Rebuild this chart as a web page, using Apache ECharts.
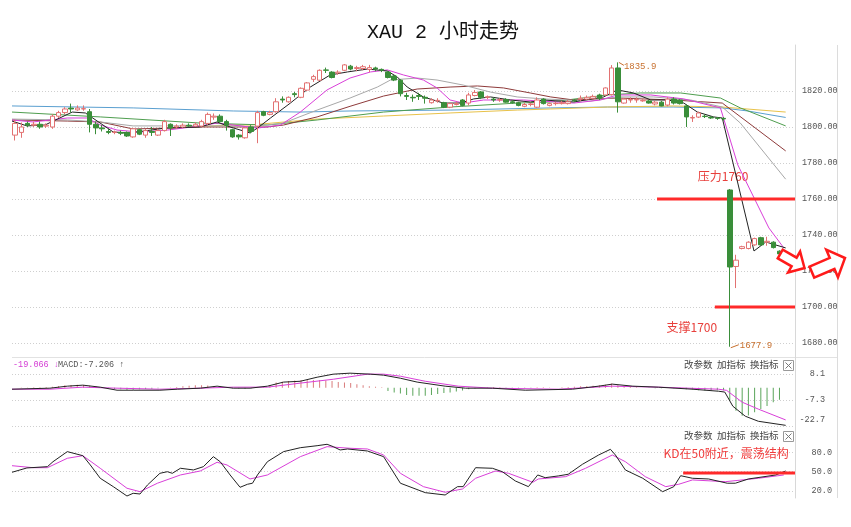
<!DOCTYPE html>
<html><head><meta charset="utf-8">
<script src="https://cdn.jsdelivr.net/npm/echarts@6/dist/echarts.min.js"></script>
<style>html,body{margin:0;padding:0;background:#fff}#c{width:851px;height:527px}</style>
</head><body><div id="c"></div>
<script>
// ---------- DATA ----------
const N_SLOTS = 126; // category slots (124 bars + 2 empty at right)
const opens  = [1795.5,1797,1802,1801,1801.5,1800.5,1800,1806,1808,1810.5,1809.5,1810,1808.5,1801.5,1799.5,1797.5,1797,1797,1797,1794.5,1798.5,1795.5,1797.5,1795.5,1798,1801.5,1800,1800,1801,1800.5,1800.5,1802,1805.5,1806,1803,1798.5,1795.5,1794,1800,1800.5,1808.5,1807,1808.5,1815.5,1814,1818.5,1816.5,1820.5,1826.5,1826,1831.7,1830.5,1830,1831.5,1833.8,1832.5,1832.5,1832,1832.8,1832,1830.5,1828.3,1826,1817.5,1816.5,1817.5,1816.5,1813.5,1814.5,1813.5,1811,1812.5,1815,1813.3,1817.5,1819.5,1816.5,1815.5,1815,1815.3,1814,1813.5,1811.5,1812.5,1811,1815.5,1812,1813,1813,1813,1815,1815.5,1815.5,1816,1817.8,1817.8,1818,1832.8,1813.3,1815,1815,1814.5,1814.5,1812.8,1813.8,1812.2,1815.5,1815,1811.7,1805,1805.5,1806,1805.5,1805,1804.8,1765,1722.5,1732.5,1732.5,1734.5,1738.5,1736,1736,1731];
const closes = [1802,1800,1801,1801.5,1800,1801,1806,1808,1810,1810,1810.5,1810.2,1801.5,1799.5,1799,1797,1797.2,1796.5,1795,1799,1796,1798,1797,1798,1803,1799.5,1800.5,1801,1800.5,1801.5,1803,1807,1806,1803,1801,1794.5,1794.5,1799.5,1797.5,1808,1806.5,1808,1814,1815,1816.5,1818,1821.5,1824.5,1828,1831.5,1831.5,1827.5,1830.5,1834.5,1832.2,1833,1833.5,1833,1832.2,1831.5,1827.5,1826.1,1818.5,1817,1816.2,1817,1816,1815,1814.8,1811,1813,1813,1812,1817.8,1819.2,1816.5,1816.8,1815,1815.2,1813.8,1813.5,1812,1812.5,1812.8,1815,1813,1813,1813.2,1813.5,1814,1814.5,1816,1816.5,1817,1816,1821.7,1832.8,1814,1815.5,1815.3,1815.3,1814.8,1813.3,1813.8,1811.7,1815.5,1813.3,1813,1805.6,1805.3,1807.8,1805.8,1805,1804.8,1804.5,1722.2,1726,1733.5,1736,1738,1734.5,1736.5,1733,1729.5];
const lows   = [1792.5,1794,1800,1800,1799,1799.5,1799,1805,1807,1808,1809,1809,1797,1796,1797.5,1796,1796,1795.5,1794.5,1794,1795.5,1794,1795,1795,1797.5,1795,1799,1799.5,1800,1800,1800,1801,1804,1802,1798,1794,1793,1793.5,1796.5,1791,1806,1806.5,1808,1813.5,1813.5,1816.5,1816,1820,1825,1825.5,1830,1827,1829,1831,1831.5,1831,1831.5,1830.5,1831,1830.5,1827,1825.5,1817,1815,1814,1815,1813,1813,1813.5,1810.5,1810.5,1812,1811.5,1812,1817,1815.5,1815.5,1814,1814,1813.5,1813,1811.5,1811,1811.5,1810.5,1812.5,1811.5,1812,1812.5,1812.5,1814,1814.5,1815,1815.5,1815,1817.5,1817.5,1808,1813,1813.5,1813.5,1814,1813,1812,1811.5,1811.5,1812.5,1812.5,1800,1802.8,1805,1805,1804.5,1804,1803.5,1677.9,1710.5,1732,1732,1734,1734,1734,1732.5,1729];
const highs  = [1804,1802.5,1803,1803,1803,1802,1807,1809,1811,1813,1812,1812,1810,1803,1801,1799,1798,1798,1797.5,1799.5,1799,1799,1800,1799,1804,1802,1801.5,1802,1802,1802.5,1804,1808,1807.5,1807,1804,1799,1796,1800,1801,1809,1809,1809,1816,1817,1817,1819.5,1822,1825,1829,1832,1833,1831,1831.5,1835,1834.5,1834,1834.5,1834.5,1833.5,1832.5,1831,1829,1826.5,1819,1818,1819,1817.5,1816,1816,1814,1813.5,1814,1815.5,1819,1820.5,1820,1817.5,1816.5,1816,1816,1815,1814,1813.5,1813.5,1816.5,1816,1813.5,1814,1814.5,1815,1815.5,1817.5,1817.5,1818,1818.5,1822,1834.4,1835.9,1816,1816.5,1816.5,1815.5,1815,1814.5,1814.5,1816.5,1816.5,1815.5,1812.5,1806.5,1808.5,1807,1806,1805.5,1805.5,1765.5,1729,1734,1736.5,1738.5,1739,1739,1736.5,1731.5];

// moving-average lines: [bar index, value]
const ma5   = [[-0.5,1803.3],[1.9,1800.6],[4.8,1801.1],[9.2,1808.3],[11.3,1807.8],[15.8,1797.2],[18.5,1796.7],[24.2,1799.4],[29.8,1800],[32.5,1802.8],[34.6,1800],[37.8,1796.7],[39,1799.4],[41.1,1805],[44.3,1813.3],[47.5,1822.2],[50.7,1828.9],[53.5,1830.6],[56.7,1832.2],[59.9,1831.1],[61.5,1827.8],[63.1,1822.2],[65.7,1816.7],[68.9,1813.3],[71.7,1813.3],[73.8,1815.6],[76.5,1816.7],[79.7,1815],[82.9,1813.9],[85,1815],[89.9,1813.9],[94.7,1816.7],[96.9,1820.6],[99.5,1818.9],[102.3,1815],[105,1815],[107.6,1813.3],[109.8,1808.3],[112.4,1805.6],[113.8,1805],[118.9,1731.1],[120.8,1736.1],[124,1732.8]];
const ma10  = [[-0.5,1803.9],[2.9,1802.8],[8.4,1805],[11.6,1805],[13.7,1801.1],[16.4,1798.3],[20.1,1797.2],[24.5,1798.3],[29.8,1800.6],[32.5,1802.2],[35.1,1801.1],[39,1799.4],[42.7,1801.1],[45.9,1808.3],[50.2,1820.6],[53.9,1827.2],[57.2,1830.6],[59.9,1831.7],[62.5,1828.9],[65.7,1826.1],[67.9,1821.7],[70,1815],[72.1,1813.3],[75.4,1815],[81.8,1815],[89.9,1813.3],[94.2,1815],[96.9,1817.8],[102.3,1817.8],[107.6,1815.6],[113.5,1810.6],[116.3,1778.9],[121.3,1743.9],[123.7,1732.8]];
const ma20  = [[-0.5,1804.4],[8.4,1803.9],[13.7,1802.8],[19,1800.6],[24.5,1800.6],[29.8,1800.6],[36.2,1800.6],[37.8,1800],[43.2,1802.2],[48.6,1809.4],[53.9,1816.1],[58.3,1822.2],[60.4,1826.1],[64.7,1827.2],[67.9,1826.1],[72.1,1823.3],[76.5,1819.4],[80.8,1816.7],[85,1815.6],[92.6,1814.4],[96.9,1816.7],[102.7,1816.7],[108.7,1815],[113.8,1811.1],[116.7,1802.2],[124,1771]];
const ma30  = [[-0.5,1803.9],[8.4,1803.3],[13.7,1802.8],[19,1798.9],[24.5,1799.4],[29.8,1800],[35.1,1800],[40.6,1800],[43.2,1801.1],[48.6,1805.6],[53.9,1811.5],[59.3,1817.2],[64.7,1821.1],[70,1822.2],[74.4,1822.8],[78.6,1821.7],[82.9,1818.9],[86.2,1816.7],[89.9,1815],[96.9,1816.1],[105.9,1815],[113.8,1813.3],[124,1786.7]];
const ma60  = [[-0.5,1808.3],[13.7,1805.6],[29.8,1802.2],[40.6,1801.1],[48.6,1803.9],[59.3,1808.3],[70,1811.1],[80.8,1813.3],[86.2,1813.9],[95.3,1817.8],[100.6,1818.9],[107.1,1818.9],[113.5,1816.1],[116.7,1810.6],[124,1800.6]];
const maBlue= [[-0.5,1811.7],[19,1810.6],[35.1,1808.9],[45.9,1808.3],[53.9,1808.9],[70,1809.4],[86.2,1810.6],[95.3,1811.1],[105.9,1811.1],[113.8,1810.6],[117.9,1808.9],[124,1805.3]];
const maGold= [[25,1799.4],[34.6,1801.1],[37.8,1801.1],[48.6,1804.4],[59.3,1806.1],[70,1807.8],[80.8,1809.4],[86.2,1810],[95.3,1811.1],[105.9,1811.7],[113.8,1811.1],[124,1808.3]];

// MACD
const macdDif = [[-0.5,-0.9],[5.6,-0.3],[8.4,0.9],[10.9,1.5],[13.7,0.3],[16.4,-1.5],[19,-1.5],[23.3,-1.5],[26.1,-0.9],[29.8,-0.3],[32.5,0.9],[35.1,-0.3],[37.8,-0.3],[40.6,0.9],[43.2,3.3],[45.9,3.8],[48.6,6.2],[51.2,8.0],[53.9,8.6],[57.2,8.0],[59.3,7.4],[62,5.6],[64.7,3.3],[69.2,0.9],[72.5,-0.3],[76.8,-0.3],[82.1,-1.5],[89.7,-0.9],[93.9,0.9],[96.1,2.1],[99.4,0.9],[103.5,0.3],[109,-0.9],[113.2,-2.1],[114.2,-2.6],[115.5,-11],[117.5,-16.9],[119.6,-19.9],[124,-22.3]];
const macdDea = [[-0.5,-0.9],[5.6,-0.9],[10.9,0.3],[16.4,-0.3],[23.3,-0.9],[29.8,-0.3],[35.1,0.3],[40.6,0.3],[45.9,2.7],[51.2,5.0],[56.7,8.0],[59.3,8.0],[62,6.8],[66,3.8],[71.3,0.9],[76.8,-0.3],[87.4,-0.9],[96.1,0.9],[103.5,0.3],[113.2,-0.9],[114.5,-1.6],[117,-8.6],[119.6,-12.7],[124,-19.1]];
const macdHist = [0,0.1,0.1,0.2,0.2,0.4,
 0.6,1.0,1.4,1.6,1.8,1.6,1.2,0.8,0.4,
 -0.4,-0.8,-1.0,-1.2,-1.2,-1.0,-0.8,-0.6,-0.3,-0.1,0.1,
 0.4,0.8,1.2,1.5,1.5,1.3,1.0,0.7,0.4,
 -0.3,-0.5,-0.6,-0.4,-0.2,0.2,
 1.5,3.1,3.5,4.0,4.3,4.5,4.6,4.6,4.6,4.3,4.0,3.4,3.1,2.7,2.1,1.5,0.9,0.5,0.2,
 -1.9,-2.9,-3.4,-4.4,-4.8,-4.8,-4.8,-4.4,-3.8,-3.2,-2.8,-2.2,-1.6,-1.0,-0.5,
 -0.2,0.2,0.4,0.3,-0.2,-0.4,-0.5,-0.4,-0.3,0.2,0.3,0.1,-0.1,
 0.2,0.4,0.6,0.8,1.0,1.2,1.4,1.8,2.5,1.5,0.8,0.4,0.2,
 0,-0.2,-0.3,-0.3,-0.2,-0.3,-0.5,-0.9,-1.2,-1.5,-1.6,-1.6,-1.5,-1.5,
 -7.8,-13.7,-16.7,-16.5,-14.5,-12.7,-10.8,-8.6,-7.2];

// KD
const kdK = [[-0.5,49],[1.9,55.7],[5.2,57.7],[6.1,65.4],[8.4,81],[10.9,74.7],[12.1,60.3],[13.7,39.7],[15.8,26.7],[18,12.2],[19,16.4],[20.1,15.3],[21.3,29.3],[23.3,47.4],[24.5,49.9],[25.3,47.4],[26.6,55.2],[28.7,52.6],[30.3,57.7],[31.9,73.2],[33,65.4],[34.6,44.8],[36.2,25.7],[37.4,30.4],[38.2,32],[39,44.8],[40.6,65.4],[43.2,81],[45.9,87.1],[48.6,90.2],[50.2,92.4],[51.2,88.7],[52.3,83.6],[53.5,85.1],[56.7,82],[59.3,73.2],[62,32],[66,17.4],[69.2,13.8],[71.2,26.7],[72.1,26.7],[74.1,56.1],[76.8,55.2],[78.4,49.9],[80.5,35.5],[82.6,26.7],[84.1,44.8],[85.3,40.6],[87.4,43.3],[89,45.9],[91.3,61.4],[93.9,75.8],[95.8,84.6],[96.6,75.8],[98.2,52.6],[101,39.7],[104.2,18.9],[106,26.7],[107.1,43.7],[109,39.7],[111.6,38.6],[114.6,32],[115.9,32],[118,38.6],[122.4,44.8],[124,51]];
const kdD = [[-0.5,59.2],[2.9,56.1],[5.2,56.1],[8.4,70.7],[10.9,74.7],[13.7,55.2],[18,24.2],[20.1,18.9],[22.9,32],[26.6,44.8],[29.8,51],[32.5,64.5],[34.1,60.3],[37.8,38.6],[40.6,44.8],[45.9,73.2],[50.2,88.7],[53.9,86.2],[56.7,85.1],[59.3,75.8],[62,47.4],[65.7,26.7],[69.2,18],[72,23.1],[74.1,39.7],[77.3,51],[79.4,47.4],[83.3,33.5],[84.2,38.6],[88.6,42.2],[91.8,55.2],[96.1,75.8],[98.2,65.4],[101.4,42.2],[104.7,26.7],[106.8,30.4],[109,37.1],[114.3,34.4],[119.6,39.7],[123.7,44.8]];

// annotations
const resistLevel = 1760, supportLevel = 1700, kdLevel = 48;
const resistFrom = 103.3, supportFrom = 112.6, kdFrom = 107.5, levelTo = 125.5;
const peakIdx = 97, peakVal = 1835.9, troughIdx = 115, troughVal = 1677.9;
const mainTicks = [1680,1700,1720,1740,1760,1780,1800,1820];
const macdTicks = [8.1,-7.3,-22.7];
const kdTicks = [20,50,80];

// ---------- CHART ----------
const cats = Array.from({length: N_SLOTS}, (_, i) => String(i));
const candleData = opens.map((o, i) => [o, closes[i], lows[i], highs[i]]);
const mono = "'Liberation Mono','DejaVu Sans Mono',monospace";
const cjk = "'Noto Sans CJK SC','Noto Sans',sans-serif";
const RED = '#ff2a2a';

const chart = echarts.init(document.getElementById('c'), null, {renderer: 'canvas'});
const gridL = 12, gridR = 56;
const grids = [
  {left: gridL, right: gridR, top: 45, height: 312},
  {left: gridL, right: gridR, top: 357, height: 70},
  {left: gridL, right: gridR, top: 427, height: 71}
];
function catX(g){ return {type:'category', gridIndex:g, data:cats, boundaryGap:true, show:false}; }
function valX(g){ return {type:'value', gridIndex:g, min:-0.5, max:N_SLOTS-0.5, show:false}; }
const splitStyle = {show:true, lineStyle:{color:'#cfcfcf', type:[1,2], width:1}};
function line(data, xi, yi, color, w){
  return {type:'line', xAxisIndex:xi, yAxisIndex:yi, data:data, showSymbol:false, symbol:'none',
    lineStyle:{color:color, width:w||1}, itemStyle:{color:color}, silent:true, z:3, animation:false};
}
const labelBase = {color:'#555', fontSize:8.5, fontFamily: mono};

const option = {
  animation: false,
  backgroundColor: '#fff',
  title: {text: 'XAU 2 小时走势', left: 362, top: 18,
    textStyle: {fontFamily: mono + ',' + cjk, fontSize: 20, fontWeight: 'normal', color: '#111'}},
  grid: grids,
  xAxis: [catX(0), catX(1), catX(2), valX(0), valX(1), valX(2)],
  yAxis: [
    {type:'value', gridIndex:0, position:'right', min:1672.2, max:1845.56, scale:true,
     axisLine:{show:true, onZero:false, lineStyle:{color:'#d8d8d8'}},
     axisTick:{show:false, customValues: mainTicks},
     axisLabel:Object.assign({customValues: mainTicks, formatter: v => v.toFixed(2), margin:7}, labelBase),
     splitLine: splitStyle},
    {type:'value', gridIndex:1, position:'right', min:-23.29, max:18.17,
     axisLine:{show:true, onZero:false, lineStyle:{color:'#d8d8d8'}},
     axisTick:{show:false, customValues: macdTicks},
     axisLabel:Object.assign({customValues: macdTicks, margin:30, align:'right',
       formatter: v => v < -20 ? '{lo|' + v.toFixed(1) + '}' : v.toFixed(1),
       rich:{lo:Object.assign({padding:[0,0,12,0]}, labelBase)}}, labelBase),
     splitLine: splitStyle},
    {type:'value', gridIndex:2, position:'right', min:9.1, max:119.2,
     axisLine:{show:true, onZero:false, lineStyle:{color:'#d8d8d8'}},
     axisTick:{show:false, customValues: kdTicks},
     axisLabel:Object.assign({customValues: kdTicks, formatter: v => v.toFixed(1), margin:37, align:'right'}, labelBase),
     splitLine: splitStyle}
  ],
  series: [
    line(maBlue, 3, 0, '#5a9fd0'),
    line(maGold, 3, 0, '#e8c24a'),
    line(ma60, 3, 0, '#4f9e4f'),
    line(ma30, 3, 0, '#8e3a3a'),
    line(ma20, 3, 0, '#a8a8a8'),
    {type:'candlestick', xAxisIndex:0, yAxisIndex:0, data:candleData, barWidth:5, z:4,
     itemStyle:{color:'#ffffff', color0:'#3a8e3a', borderColor:'#e27272', borderColor0:'#3a8e3a', borderWidth:1}},
    line(ma10, 3, 0, '#d93fd9'),
    line(ma5, 3, 0, '#222222'),
    // support / resistance
    line([[resistFrom, resistLevel],[levelTo, resistLevel]], 3, 0, RED, 3),
    line([[supportFrom, supportLevel],[levelTo, supportLevel]], 3, 0, RED, 3),
    // MACD
    {type:'bar', xAxisIndex:1, yAxisIndex:1, data:macdHist, barWidth:1,
     itemStyle:{color: p => p.value >= 0 ? '#d97b7b' : '#5aa55a'}},
    line(macdDea, 4, 1, '#d93fd9'),
    line(macdDif, 4, 1, '#222222'),
    // KD
    line(kdD, 5, 2, '#d93fd9'),
    line(kdK, 5, 2, '#222222'),
    line([[kdFrom, kdLevel],[levelTo, kdLevel]], 5, 2, RED, 3)
  ]
};
chart.setOption(option);

// ---------- decorations ----------
function arrowPts(tx, ty, angDeg, len, headLen, headHalf, shaftHalf){
  const a = angDeg*Math.PI/180, dx = Math.cos(a), dy = Math.sin(a), nx = -dy, ny = dx;
  const bx = tx - headLen*dx, by = ty - headLen*dy, ax = tx - len*dx, ay = ty - len*dy;
  return [[ax+shaftHalf*nx, ay+shaftHalf*ny],[bx+shaftHalf*nx, by+shaftHalf*ny],[bx+headHalf*nx, by+headHalf*ny],
          [tx,ty],[bx-headHalf*nx, by-headHalf*ny],[bx-shaftHalf*nx, by-shaftHalf*ny],[ax-shaftHalf*nx, ay-shaftHalf*ny]];
}
function headerItems(y){
  const f = '9.5px ' + cjk;
  return [
    {type:'text', left:684, top:y-6, style:{text:'改参数', font:f, fill:'#444'}},
    {type:'text', left:717, top:y-6, style:{text:'加指标', font:f, fill:'#444'}},
    {type:'text', left:750, top:y-6, style:{text:'换指标', font:f, fill:'#444'}},
    {type:'rect', shape:{x:783.5, y:y-5.5, width:10, height:10}, style:{fill:'#fff', stroke:'#999', lineWidth:1}},
    {type:'polyline', shape:{points:[[785.5,y-3.5],[791.5,y+2.5]]}, style:{stroke:'#777', lineWidth:1}},
    {type:'polyline', shape:{points:[[791.5,y-3.5],[785.5,y+2.5]]}, style:{stroke:'#777', lineWidth:1}}
  ];
}
const pPeak = chart.convertToPixel({xAxisIndex:3, yAxisIndex:0}, [peakIdx, peakVal]);
const pLow  = chart.convertToPixel({xAxisIndex:3, yAxisIndex:0}, [troughIdx, troughVal]);
const pRes  = chart.convertToPixel({xAxisIndex:3, yAxisIndex:0}, [resistFrom, resistLevel]);
const pSup  = chart.convertToPixel({xAxisIndex:3, yAxisIndex:0}, [supportFrom, supportLevel]);
const pKd   = chart.convertToPixel({xAxisIndex:5, yAxisIndex:2}, [kdFrom, kdLevel]);
const orange = '#c8702e';
const annFont = '12px ' + cjk;
const graphics = [
  {type:'line', shape:{x1:837.5, y1:45, x2:837.5, y2:498}, style:{stroke:'#dcdcdc', lineWidth:1}},
  {type:'line', shape:{x1:12, y1:357.5, x2:837, y2:357.5}, style:{stroke:'#e2e2e2', lineWidth:1}},
  {type:'text', left:13, top:360, style:{text:'-19.066 ↓', font:'8.5px ' + mono, fill:'#d43cd4'}},
  {type:'text', left:58, top:360, style:{text:'MACD:-7.206 ↑', font:'8.5px ' + mono, fill:'#555'}},
  ...headerItems(366), ...headerItems(437),
  {type:'polyline', shape:{points:[[pPeak[0]+1,pPeak[1]],[pPeak[0]+6,pPeak[1]+3]]}, style:{stroke:orange, lineWidth:1}},
  {type:'text', x:pPeak[0]+6, y:pPeak[1]+4, style:{text:'1835.9', font:'9px ' + mono, fill:orange, verticalAlign:'middle'}},
  {type:'polyline', shape:{points:[[pLow[0]+1,pLow[1]+1],[pLow[0]+9,pLow[1]-2]]}, style:{stroke:orange, lineWidth:1}},
  {type:'text', x:pLow[0]+10, y:pLow[1]-1, style:{text:'1677.9', font:'9px ' + mono, fill:orange, verticalAlign:'middle'}},
  {type:'text', x:pRes[0]+66, y:pRes[1]-23, style:{text:'压力1760', font:annFont, fill:'#e8403c', align:'center', verticalAlign:'middle'}},
  {type:'text', x:pSup[0]-23, y:pSup[1]+20, style:{text:'支撑1700', font:annFont, fill:'#e8403c', align:'center', verticalAlign:'middle'}},
  {type:'text', x:pKd[0]+43, y:pKd[1]-19, style:{text:'KD在50附近，震荡结构', font:annFont, fill:'#f03c3c', align:'center', verticalAlign:'middle'}},
  {type:'polygon', z:100, shape:{points: arrowPts(804.5, 268, 30, 28, 12, 12, 5)}, style:{fill:'#fff', stroke:'#ff1a1a', lineWidth:2.5}},
  {type:'polygon', z:100, shape:{points: arrowPts(845, 258, -23, 36, 14, 15, 6)}, style:{fill:'#fff', stroke:'#ff1a1a', lineWidth:2.5}}
];
chart.setOption({graphic: graphics});
</script>
</body></html>
